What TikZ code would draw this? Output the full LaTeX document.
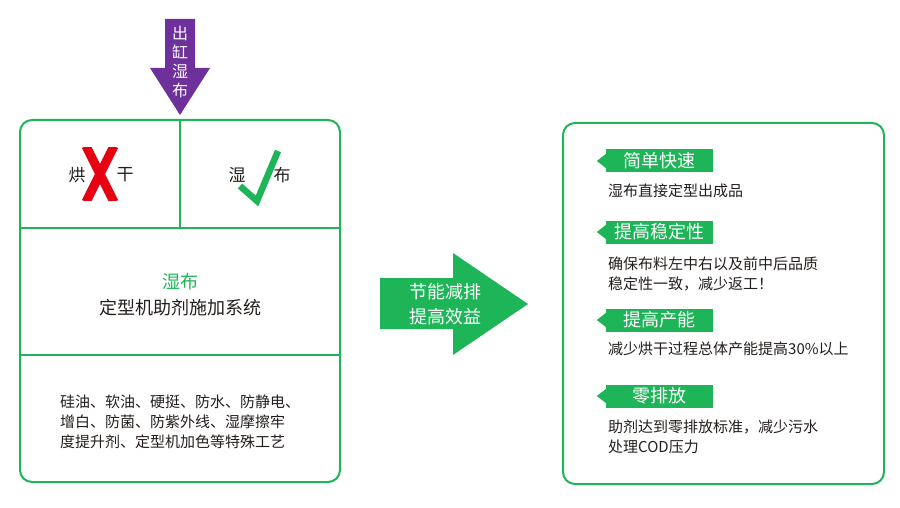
\documentclass[tikz,border=0pt]{standalone}
\usepackage{fontspec}
\setmainfont{Noto Sans CJK SC}
\usepackage{xcolor}
\definecolor{leafgreen}{RGB}{29,181,88}
\definecolor{vatpurple}{RGB}{110,48,155}
\definecolor{crossred}{RGB}{230,0,18}
\definecolor{inkgray}{RGB}{35,30,28}

\begin{document}
\begin{tikzpicture}[x=1pt,y=-1pt,
  frame/.style={draw=leafgreen, line width=2pt, rounded corners=12pt},
  rule/.style={draw=leafgreen, line width=2pt},
  desc/.style={font=\fontsize{15}{20}\selectfont, text=inkgray, align=left, inner sep=0pt, anchor=west},
  cell/.style={font=\fontsize{17}{20}\selectfont, text=inkgray, inner sep=0pt},
  tagbox/.style={fill=leafgreen, text=white, minimum width=107pt, minimum height=23pt, inner sep=0pt, font=\fontsize{18}{20}\selectfont}]
\useasboundingbox (0,0) rectangle (900,508);

% incoming wet fabric
\fill[vatpurple] (165,19) -- (195,19) -- (195,68) -- (210,68) -- (180,115) -- (150,68) -- (165,68) -- cycle;
\node[text=white, font=\fontsize{16}{19}\selectfont, align=center, inner sep=0pt] (wetin) at (180,62) {出\\缸\\湿\\布};

% left panel
\draw[frame] (20,120) rectangle (340,482);
\draw[rule] (180,120) -- (180,228);
\draw[rule] (20,228) -- (340,228);
\draw[rule] (20,355) -- (340,355);

\node[cell] (dryl) at (77,175) {烘};
\node[cell] (dryr) at (125,175) {干};
\begin{scope}
\clip (80,148) rectangle (120,200);
\draw[crossred, line width=9pt] (86,146) -- (114,202);
\draw[crossred, line width=9pt] (114,146) -- (86,202);
\end{scope}

\node[cell] (wetl) at (237,175) {湿};
\node[cell] (wetr) at (282,175) {布};
\draw[leafgreen, line width=6.5pt] (240,186) -- (257,201) -- (278,151);

\node[text=leafgreen, font=\fontsize{18}{20}\selectfont, inner sep=0pt] (wetcap) at (180,282) {湿布};
\node[text=inkgray, font=\fontsize{18}{20}\selectfont, inner sep=0pt] (system) at (180,308) {定型机助剂施加系统};

\node[desc] (crafts) at (60,422) {硅油、软油、硬挺、防水、防静电、\\增白、防菌、防紫外线、湿摩擦牢\\度提升剂、定型机加色等特殊工艺};

% benefit arrow
\fill[leafgreen] (380,278) -- (453,278) -- (453,253) -- (528,304) -- (453,355) -- (453,329) -- (380,329) -- cycle;
\node[text=white, font=\fontsize{18}{25}\selectfont, align=center, inner sep=0pt] (gain) at (445,304.5) {节能减排\\提高效益};

% right panel
\draw[frame] (563,123) rectangle (884,484);
\foreach \y/\t [count=\i] in {161/简单快速, 232/提高稳定性, 320/提高产能, 396/零排放} {
  \node[tagbox] (tag\i) at (659.5,\y) {\t};
  \fill[leafgreen] (tag\i.west) ++(0,-7) -- ++(-9,7) -- ++(9,7) -- cycle;
}

\node[desc] (easy) at (608,191) {湿布直接定型出成品};
\node[desc] (stable) at (608,274) {确保布料左中右以及前中后品质\\稳定性一致，减少返工！};
\node[desc] (output) at (608,349) {减少烘干过程总体产能提高30\%以上};
\node[desc] (zero) at (608,437) {助剂达到零排放标准，减少污水\\处理COD压力};
\end{tikzpicture}
\end{document}
